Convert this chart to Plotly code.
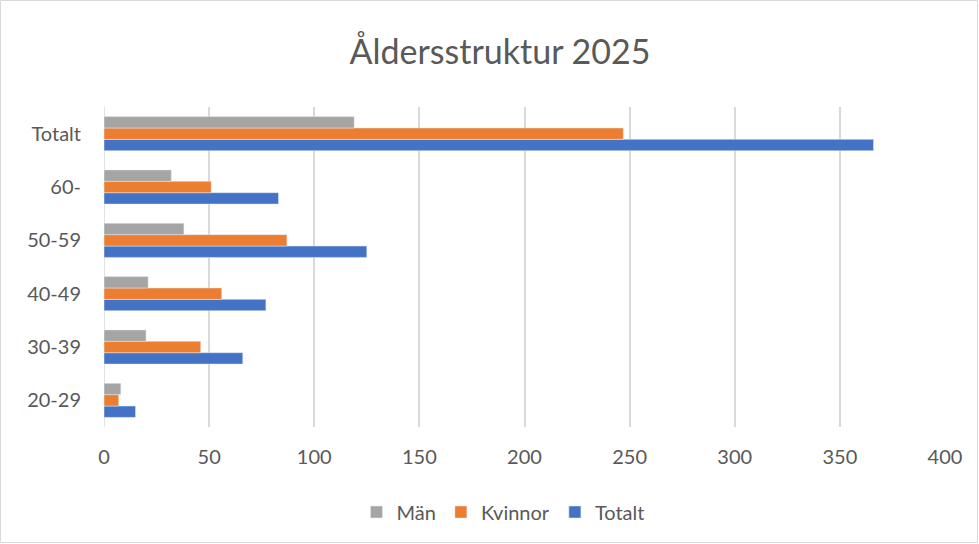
import plotly.graph_objects as go

categories = ["20-29", "30-39", "40-49", "50-59", "60-", "Totalt"]
man = [8, 20, 21, 38, 32, 119]
kvinnor = [7, 46, 56, 87, 51, 247]
totalt = [15, 66, 77, 125, 83, 366]
x_ticks = [0, 50, 100, 150, 200, 250, 300, 350, 400]

W, H = 979, 544
L, R, T, B = 104, 34, 107, 117
pw, ph = W - L - R, H - T - B

fig = go.Figure()
fig.add_trace(go.Bar(y=categories, x=totalt, name="Totalt", orientation="h",
                     marker_color="#4472C4", legendrank=3))
fig.add_trace(go.Bar(y=categories, x=kvinnor, name="Kvinnor", orientation="h",
                     marker_color="#ED7D31", legendrank=2))
fig.add_trace(go.Bar(y=categories, x=man, name="Män", orientation="h",
                     marker_color="#A5A5A5", legendrank=1))

font = "Lato, 'Open Sans', sans-serif"
fig.update_layout(
    width=W, height=H,
    margin=dict(l=L, r=R, t=T, b=B, autoexpand=False),
    paper_bgcolor="white", plot_bgcolor="white",
    barmode="group", bargap=0.36, bargroupgap=0,
    font=dict(family=font, color="#595959", size=20),
    title=dict(text="Åldersstruktur 2025", x=500 / W, xanchor="center",
               y=1 - 52 / H, yanchor="middle",
               font=dict(size=34, color="#595959", family=font)),
    legend=dict(orientation="h", x=(503 - L) / pw, xanchor="center",
                y=-(512 - (T + ph)) / ph, yanchor="middle",
                font=dict(size=20, color="#595959"), traceorder="normal",
                itemwidth=30),
    xaxis=dict(range=[0, 400], tickvals=x_ticks, showgrid=True,
               gridcolor="#D9D9D9", gridwidth=1.5, zeroline=False,
               showline=False, ticks="", ticklabelstandoff=16, automargin=False,
               tickfont=dict(size=20, color="#595959")),
    yaxis=dict(showgrid=False, zeroline=False, showline=False, ticks="",
               ticklabelstandoff=22, automargin=False,
               tickfont=dict(size=20, color="#595959")),
    showlegend=True,
)
# chart outer border
fig.add_shape(type="rect", xref="paper", yref="paper",
              x0=(0.5 - L) / pw, x1=(W - 1.5 - L) / pw,
              y0=-(H - 1.5 - T - ph) / ph, y1=1 + (T - 0.5) / ph,
              line=dict(color="#D9D9D9", width=1), layer="below")
# zero line
fig.add_shape(type="line", xref="x", yref="paper", x0=0, x1=0, y0=0, y1=1,
              line=dict(color="#D9D9D9", width=1.5), layer="below")

fig.write_html("out.html", config={"displayModeBar": False},
               post_script="document.body.style.margin='0';document.body.style.overflow='hidden';")
